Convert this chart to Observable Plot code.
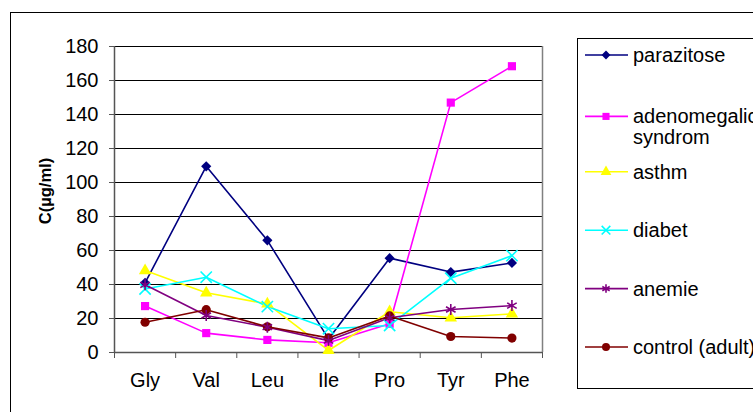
<!DOCTYPE html>
<html><head><meta charset="utf-8">
<script src="https://cdn.jsdelivr.net/npm/d3@7"></script>
<script src="https://cdn.jsdelivr.net/npm/@observablehq/plot@0.6"></script>
<style>
body{margin:0;background:#fff;font-family:"Liberation Sans",Arial,sans-serif;}
#wrap{position:relative;width:753px;height:412px;overflow:hidden;background:#fff;}
#outer{position:absolute;left:10px;top:12px;width:800px;height:500px;border:1px solid #000;}
#chart{position:absolute;left:0;top:0;}
#ylabel{position:absolute;left:45px;top:191px;transform:translate(-50%,-50%) rotate(-90deg);font-weight:bold;font-size:16.5px;white-space:nowrap;}
#legsvg{position:absolute;left:0;top:0;}
#legend{position:absolute;left:577px;top:38px;width:300px;height:349px;border:1px solid #000;background:#fff;}
</style></head><body>
<div id="wrap"><div id="outer"></div><div id="chart"></div><div id="ylabel">C(µg/ml)</div><div id="legend"></div><svg id="legsvg" width="753" height="412"></svg></div>
<script>
const categories = ["Gly","Val","Leu","Ile","Pro","Tyr","Phe"];
const seriesNames = ["parazitose","adenomegalic syndrom","asthm","diabet","anemie","control (adult)"];
const parazitose   = [41, 109.5, 66, 8, 55.5, 47.3, 52.7];
const adenomegalic = [27.3, 11.4, 7.4, 5.7, 16.9, 147, 168.4];
const asthm        = [48.2, 35.1, 28.6, 1.2, 24, 20.4, 22.7];
const diabet       = [37.4, 44.3, 27, 14, 15.9, 43.7, 57];
const anemie       = [39.8, 21.8, 14.9, 7, 20.4, 25.3, 27.6];
const control      = [17.8, 25.2, 15.1, 8.6, 21.5, 9.4, 8.5];
const yTicks = [0,20,40,60,80,100,120,140,160,180];
const colors = ["#000080","#FF00FF","#FFFF00","#00FFFF","#800080","#800000"];
const symbols = ["diamond2","square","triangle","times","asterisk","circle"];
const filled = [true,true,true,false,false,true];

const values = [parazitose, adenomegalic, asthm, diabet, anemie, control];
const data = seriesNames.flatMap((s, si) => values[si].map((v, i) => ({series: s, i, v, filled: filled[si]})));
const boundaries = d3.range(categories.length + 1).map(k => k - 0.5);

const chart = Plot.plot({
  width: 753, height: 412,
  marginLeft: 114, marginRight: 211, marginTop: 46, marginBottom: 60,
  x: {type: "linear", domain: [-0.5, categories.length - 0.5]},
  y: {domain: [0, 180]},
  color: {domain: seriesNames, range: colors},
  symbol: {domain: seriesNames, range: symbols},
  style: {fontFamily: "Liberation Sans, Arial, sans-serif", fontSize: "20px", color: "#000", background: "transparent", overflow: "visible"},
  marks: [
    Plot.gridY(yTicks, {stroke: "#000", strokeOpacity: 1, strokeWidth: 1}),
    Plot.ruleX([categories.length - 0.5], {stroke: "#808080", strokeWidth: 1.5}),
    Plot.ruleX([-0.5], {stroke: "#555", strokeWidth: 1.5}),
    Plot.ruleY([0], {stroke: "#555", strokeWidth: 1.5}),
    Plot.axisY({ticks: yTicks, tickSize: 5, tickPadding: 11, label: null, stroke: "#555"}),
    Plot.axisX({ticks: boundaries, tickSize: 6, tickFormat: () => "", label: null, stroke: "#555"}),
    Plot.axisX({ticks: d3.range(categories.length), tickSize: 0, tickPadding: 20, tickFormat: i => categories[i], label: null}),
    Plot.line(data, {x: "i", y: "v", z: "series", stroke: "series", strokeWidth: 1.6}),
    Plot.dot(data.filter(d => d.filled), {x: "i", y: "v", symbol: "series", fill: "series", stroke: "none", r: 4.6}),
    Plot.dot(data.filter(d => !d.filled), {x: "i", y: "v", symbol: "series", stroke: "series", fill: "none", strokeWidth: 1.6, r: 5.2})
  ]
});
document.getElementById("chart").appendChild(chart);

// legend
const d3sym = {diamond2: d3.symbolDiamond2, square: d3.symbolSquare, triangle: d3.symbolTriangle, times: d3.symbolTimes, asterisk: d3.symbolAsterisk, circle: d3.symbolCircle};
const leg = d3.select("#legsvg");
const legY0 = 55, legStep = 58.4, lx1 = 585, lx2 = 628, lmx = 606, ltx = 633;
seriesNames.forEach((s, k) => {
  const y = legY0 + k * legStep + (k === 1 ? 3 : 0);
  leg.append("line").attr("x1", lx1).attr("x2", lx2).attr("y1", y).attr("y2", y).attr("stroke", colors[k]).attr("stroke-width", 1.6);
  const size = Math.PI * 4 * 4;
  leg.append("path").attr("d", d3.symbol(d3sym[symbols[k]], size)()).attr("transform", `translate(${lmx},${y})`)
    .attr("fill", filled[k] ? colors[k] : "none").attr("stroke", filled[k] ? "none" : colors[k]).attr("stroke-width", 1.6);
  const words = s === "adenomegalic syndrom" ? ["adenomegalic", "syndrom"] : [s];
  const t = leg.append("text").attr("x", ltx).attr("y", y).attr("font-size", 20).attr("font-family", "Liberation Sans, Arial, sans-serif").attr("fill", "#000");
  words.forEach((w, j) => t.append("tspan").attr("x", ltx).attr("dy", j === 0 ? "0.35em" : "1.05em").text(w));
});
</script>
</body></html>
